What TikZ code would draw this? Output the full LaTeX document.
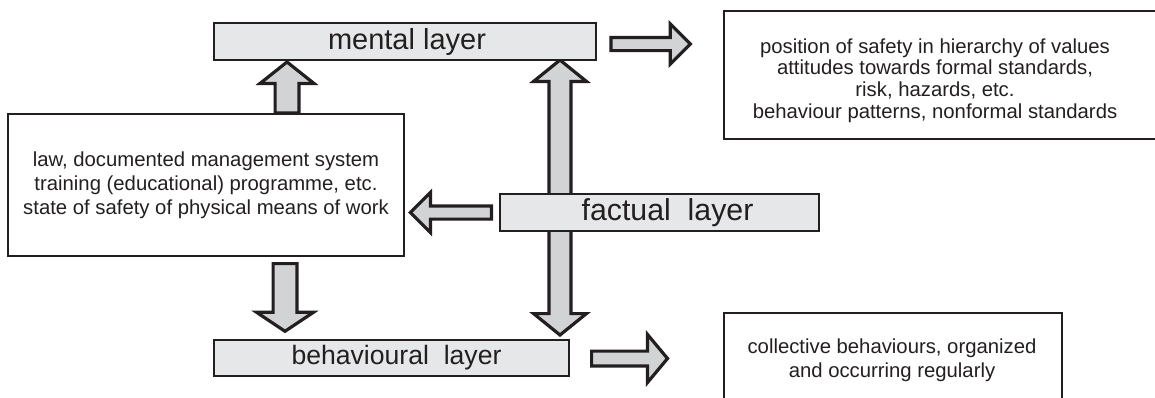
\documentclass[tikz,border=0pt]{standalone}
\usepackage{fontspec}
\setmainfont{Liberation Sans}
\usetikzlibrary{calc,backgrounds}
\definecolor{ink}{HTML}{231F20}
\definecolor{boxfill}{HTML}{E6E7E8}
\definecolor{arrowfill}{HTML}{D1D3D4}
\tikzset{
  layerbox/.style={draw=ink, line width=2pt, fill=boxfill, inner sep=0pt, text=ink},
  infobox/.style={draw=ink, line width=2pt, fill=white, inner sep=0pt},
  bodytext/.style={text=ink, align=center, inner sep=0pt},
  arrowshape/.style={draw=ink, line width=3.2pt, fill=arrowfill, line join=miter, miter limit=10},
}
% single block arrow: start, tip, shaft half width, head half width, head length
\newcommand{\blockarrow}[5]{%
  \coordinate (bas) at (#1);
  \coordinate (bae) at (#2);
  \coordinate (bah) at ($(bae)!#5!(bas)$);
  \draw[arrowshape] ($(bas)!#3!90:(bae)$) -- ($(bah)!#3!90:(bae)$) -- ($(bah)!#4!90:(bae)$) -- (bae)
    -- ($(bah)!#4!-90:(bae)$) -- ($(bah)!#3!-90:(bae)$) -- ($(bas)!#3!-90:(bae)$) -- cycle;
}
% double block arrow: tip 1, tip 2, shaft half width, head half width, head length
\newcommand{\doubleblockarrow}[5]{%
  \coordinate (das) at (#1);
  \coordinate (dae) at (#2);
  \coordinate (dah) at ($(das)!#5!(dae)$);
  \coordinate (dak) at ($(dae)!#5!(das)$);
  \draw[arrowshape] (das) -- ($(dah)!#4!90:(dae)$) -- ($(dah)!#3!90:(dae)$) -- ($(dak)!#3!90:(dae)$)
    -- ($(dak)!#4!90:(dae)$) -- (dae) -- ($(dak)!#4!-90:(dae)$) -- ($(dak)!#3!-90:(dae)$)
    -- ($(dah)!#3!-90:(dae)$) -- ($(dah)!#4!-90:(dae)$) -- cycle;
}
\begin{document}
\begin{tikzpicture}[x=1pt,y=1pt]
\useasboundingbox (0,0) rectangle (1155,-397);
\clip (0,0) rectangle (1155,-397);

% layer boxes
\node[layerbox, minimum width=382pt, minimum height=37pt, font=\fontsize{29}{30}\selectfont]
  (mental) at (405,-41.5) {\hspace*{4pt}mental layer};
\node[layerbox, minimum width=319pt, minimum height=37pt, font=\fontsize{30.3}{31}\selectfont]
  (factual) at (659.5,-212.5) {\hspace*{16pt}factual\ \ layer};
\node[layerbox, minimum width=355pt, minimum height=36pt, font=\fontsize{26.6}{28}\selectfont]
  (behav) at (391.5,-358) {\hspace*{10pt}behavioural\ \ layer};

% information boxes
\node[infobox, bodytext, minimum width=396pt, minimum height=142pt, font=\fontsize{20.3}{24}\selectfont]
  (lbox) at (206,-185) {law, documented management system\\training (educational) programme, etc.\\state of safety of physical means of work};
\node[infobox, minimum width=460pt, minimum height=128pt] (trbox) at (954,-75) {};
\node[bodytext, font=\fontsize{20.3}{21.7}\selectfont] (trtext) at (935,-80.4)
  {position of safety in hierarchy of values\\attitudes towards formal standards,\\risk, hazards, etc.\\behaviour patterns, nonformal standards};
\node[infobox, minimum width=338pt, minimum height=107pt] (brbox) at (893,-366.5) {};
\node[bodytext, font=\fontsize{20.3}{24}\selectfont] (brtext) at (892,-360)
  {collective behaviours, organized\\and occurring regularly};

% free ends of the outward arrows
\coordinate (mtip) at (690.3,-44);
\coordinate (btip) at (667.5,-358.5);

\begin{scope}[on background layer]
  \blockarrow{[xshift=81pt]lbox.north}{[xshift=-118pt,yshift=-1pt]mental.south}{11.9pt}{26.9pt}{21.4pt}
  \doubleblockarrow{[xshift=155pt,yshift=1pt]mental.south}{[xshift=168.5pt,yshift=4pt]behav.north}{11pt}{26.4pt}{21.4pt}
  \blockarrow{[xshift=79pt,yshift=-6.6pt]lbox.south}{[xshift=-106.5pt,yshift=7.7pt]behav.north}{11.9pt}{28.4pt}{19pt}
  \blockarrow{[xshift=-7.6pt]factual.west}{$(factual.west -| lbox.east)+(5.4,0)$}{6.6pt}{20pt}{20pt}
  \blockarrow{[xshift=14pt,yshift=-2.5pt]mental.east}{mtip}{6.6pt}{20pt}{20pt}
  \blockarrow{[xshift=21.6pt,yshift=-0.5pt]behav.east}{btip}{7.4pt}{24pt}{20pt}
\end{scope}
\end{tikzpicture}
\end{document}
